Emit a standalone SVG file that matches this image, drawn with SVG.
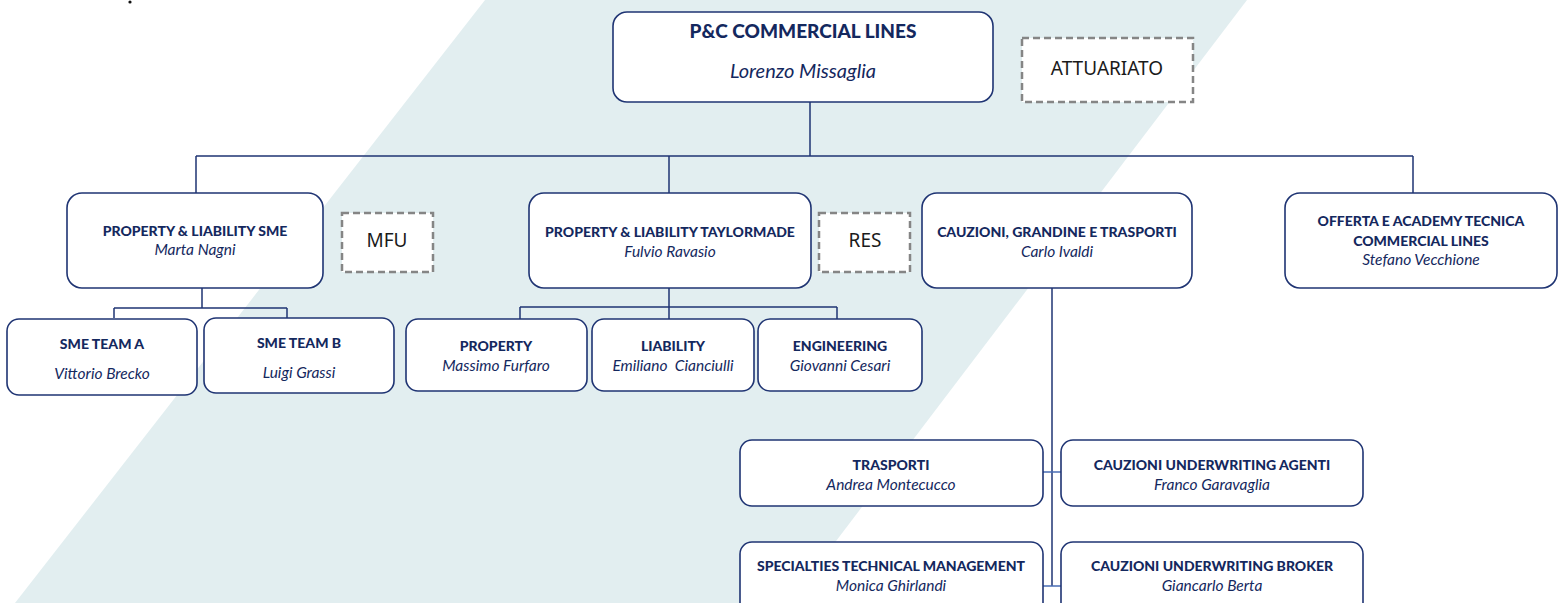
<svg xmlns="http://www.w3.org/2000/svg" width="1558" height="603" viewBox="0 0 1558 603">
<style>
.box{fill:#fff;stroke:#1f3473;stroke-width:1.6}
.dash{fill:#fff;stroke:#858585;stroke-width:2.5;stroke-dasharray:7 4}
.ln{fill:none;stroke:#1f3473;stroke-width:1.5}
.ln2{fill:none;stroke:#4a6db5;stroke-width:1.5}
.t{font-family:Lato,"Liberation Sans",sans-serif;font-weight:900;font-size:14px;fill:#14285e;text-anchor:middle}
.n{font-family:Lato,"Liberation Sans",sans-serif;font-style:italic;font-size:15.5px;fill:#14285e;text-anchor:middle}
.tt{font-size:19px}
.nn{font-size:20px}
.d{font-family:"Noto Sans","Liberation Sans",sans-serif;font-size:19px;fill:#1a1a1a;text-anchor:middle}
</style>
<rect width="1558" height="603" fill="#fff"/>
<polygon points="485,0 1247,0 789,603 15,603" fill="#e2eef0"/>
<circle cx="130" cy="2" r="1.6" fill="#111"/>
<g id="connectors">
<path class="ln" d="M810,102 V156 M196,156 H1413 M196,156 V193 M669,156 V193 M1413,156 V193"/>
<path class="ln" d="M202,288 V308 M114,308 H287 M114,308 V318 M287,308 V318"/>
<path class="ln" d="M669,288 V319 M520,307 H837 M520,307 V319 M837,307 V319"/>
<path class="ln" d="M1052,288 V586"/>
<path class="ln2" d="M1043,472 H1061 M1043,586 H1061"/>
</g>
<g id="root"><rect class="box" x="613" y="12" width="380" height="90" rx="14"/><text class="t tt" x="803" y="38">P&amp;C COMMERCIAL LINES</text><text class="n nn" x="803" y="78">Lorenzo Missaglia</text></g>
<g id="attuariato"><rect class="dash" x="1022" y="38" width="171" height="64"/><text class="d" x="1107" y="75">ATTUARIATO</text></g>
<g id="sme"><rect class="box" x="67" y="193" width="256" height="95" rx="15"/><text class="t" x="195" y="236">PROPERTY &amp; LIABILITY SME</text><text class="n" x="195" y="255">Marta Nagni</text></g>
<g id="mfu"><rect class="dash" x="342" y="213" width="91" height="59"/><text class="d" x="387" y="247">MFU</text></g>
<g id="taylormade"><rect class="box" x="529" y="193" width="282" height="95" rx="15"/><text class="t" x="670" y="237">PROPERTY &amp; LIABILITY TAYLORMADE</text><text class="n" x="670" y="257">Fulvio Ravasio</text></g>
<g id="res"><rect class="dash" x="819" y="213" width="91" height="59"/><text class="d" x="865" y="247">RES</text></g>
<g id="cauzioni"><rect class="box" x="922" y="193" width="270" height="95" rx="15"/><text class="t" x="1057" y="237">CAUZIONI, GRANDINE E TRASPORTI</text><text class="n" x="1057" y="257">Carlo Ivaldi</text></g>
<g id="offerta"><rect class="box" x="1285" y="193" width="272" height="95" rx="15"/><text class="t" x="1421" y="226">OFFERTA E ACADEMY TECNICA</text><text class="t" x="1421" y="246">COMMERCIAL LINES</text><text class="n" x="1421" y="265">Stefano Vecchione</text></g>
<g id="sme-a"><rect class="box" x="7" y="319" width="190" height="76" rx="12"/><text class="t" x="102" y="349">SME TEAM A</text><text class="n" x="102" y="379">Vittorio Brecko</text></g>
<g id="sme-b"><rect class="box" x="204" y="318" width="190" height="75" rx="12"/><text class="t" x="299" y="348">SME TEAM B</text><text class="n" x="299" y="378">Luigi Grassi</text></g>
<g id="property"><rect class="box" x="406" y="319" width="181" height="72" rx="12"/><text class="t" x="496" y="351">PROPERTY</text><text class="n" x="496" y="371">Massimo Furfaro</text></g>
<g id="liability"><rect class="box" x="592" y="319" width="162" height="72" rx="12"/><text class="t" x="673" y="351">LIABILITY</text><text class="n" x="673" y="371" xml:space="preserve">Emiliano  Cianciulli</text></g>
<g id="engineering"><rect class="box" x="758" y="319" width="164" height="72" rx="12"/><text class="t" x="840" y="351">ENGINEERING</text><text class="n" x="840" y="371">Giovanni Cesari</text></g>
<g id="trasporti"><rect class="box" x="740" y="440" width="303" height="66" rx="12"/><text class="t" x="891" y="470">TRASPORTI</text><text class="n" x="891" y="490">Andrea Montecucco</text></g>
<g id="agenti"><rect class="box" x="1061" y="440" width="302" height="66" rx="12"/><text class="t" x="1212" y="470">CAUZIONI UNDERWRITING AGENTI</text><text class="n" x="1212" y="490">Franco Garavaglia</text></g>
<g id="specialties"><rect class="box" x="740" y="542" width="303" height="80" rx="12"/><text class="t" x="891" y="571">SPECIALTIES TECHNICAL MANAGEMENT</text><text class="n" x="891" y="591">Monica Ghirlandi</text></g>
<g id="broker"><rect class="box" x="1061" y="542" width="302" height="80" rx="12"/><text class="t" x="1212" y="571">CAUZIONI UNDERWRITING BROKER</text><text class="n" x="1212" y="591">Giancarlo Berta</text></g>
</svg>
